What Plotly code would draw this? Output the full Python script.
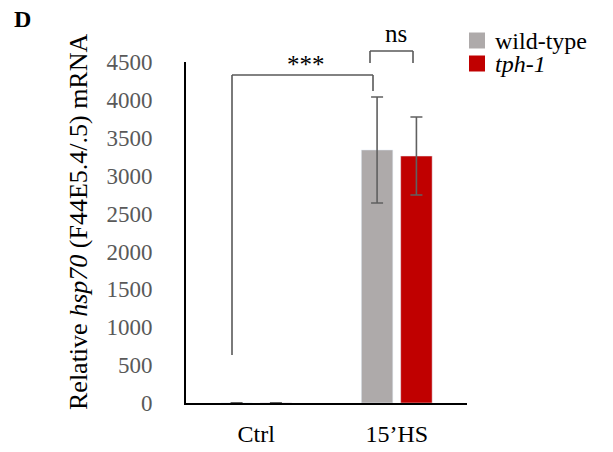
import plotly.graph_objects as go

categories = ["Ctrl", "15’HS"]
series_names = ["wild-type", "<i>tph-1</i>"]
series_colors = ["#AEAAAA", "#C00000"]
wt_values = [1, 3339]
wt_err = [0.5, 699]
tph_values = [1, 3259]
tph_err = [0.5, 515]
y_ticks = [0, 500, 1000, 1500, 2000, 2500, 3000, 3500, 4000, 4500]

FONT = "Liberation Serif, Times New Roman, serif"
L, R, T, B = 186, 613 - 467, 62, 452 - 403
W, H = 613, 452
PW, PH = W - L - R, H - T - B

def px(xp):
    return (xp - L) / PW

def py(yp):
    return (H - B - yp) / PH

err_style = dict(type="data", visible=True, color="#606060", thickness=1.6, width=6)

fig = go.Figure()
for name, color, vals, errs in zip(series_names, series_colors, [wt_values, tph_values], [wt_err, tph_err]):
    fig.add_trace(go.Bar(x=categories, y=vals, name=name, marker_color=color,
                         error_y=dict(array=errs, **err_style)))

line = dict(color="#595959", width=1.6)
# *** bracket
fig.add_shape(type="line", xref="paper", yref="paper", x0=px(232), x1=px(232), y0=py(355), y1=py(75), line=line)
fig.add_shape(type="line", xref="paper", yref="paper", x0=px(232), x1=px(373), y0=py(75), y1=py(75), line=line)
fig.add_shape(type="line", xref="paper", yref="paper", x0=px(373), x1=px(373), y0=py(75), y1=py(91), line=line)
fig.add_annotation(text="***", xref="paper", yref="paper", x=px(306), y=py(64), showarrow=False,
                   font=dict(family=FONT, size=25, color="black"), xanchor="center", yanchor="middle")
# ns bracket
fig.add_shape(type="line", xref="paper", yref="paper", x0=px(370), x1=px(370), y0=py(63), y1=py(51), line=line)
fig.add_shape(type="line", xref="paper", yref="paper", x0=px(370), x1=px(413), y0=py(51), y1=py(51), line=line)
fig.add_shape(type="line", xref="paper", yref="paper", x0=px(413), x1=px(413), y0=py(51), y1=py(63), line=line)
fig.add_annotation(text="ns", xref="paper", yref="paper", x=px(396), y=py(33), showarrow=False,
                   font=dict(family=FONT, size=25, color="black"), xanchor="center", yanchor="middle")

# legend (drawn manually for square size)
for i, (name, color) in enumerate(zip(series_names, series_colors)):
    yc = 40.5 + i * 23
    fig.add_shape(type="rect", xref="paper", yref="paper", x0=px(469), x1=px(485),
                  y0=py(yc - 8), y1=py(yc + 8), fillcolor=color, line=dict(width=0))
    fig.add_annotation(text=name, xref="paper", yref="paper", x=px(494), y=py(yc), showarrow=False,
                       font=dict(family=FONT, size=24, color="black"), xanchor="left", yanchor="middle",
                       borderpad=0)

# panel label
fig.add_annotation(text="<b>D</b>", xref="paper", yref="paper", x=px(22), y=py(19), showarrow=False,
                   font=dict(family=FONT, size=24, color="black"), xanchor="center", yanchor="middle")
# y title
fig.add_annotation(text="Relative <i>hsp70</i> (F44E5.4/.5) mRNA", xref="paper", yref="paper",
                   x=px(78), y=py(222), showarrow=False, textangle=-90,
                   font=dict(family=FONT, size=26, color="black"), xanchor="center", yanchor="middle")

fig.update_layout(
    width=W, height=H,
    margin=dict(l=L, r=R, t=T, b=B, pad=0, autoexpand=False),
    paper_bgcolor="white", plot_bgcolor="white",
    barmode="group", bargap=0.44, bargroupgap=0.2,
    font=dict(family=FONT, color="#595959"),
    showlegend=False,
    xaxis=dict(showline=True, linecolor="black", linewidth=2, ticks="", showgrid=False, automargin=False,
               tickfont=dict(family=FONT, size=24, color="black"), ticklabelstandoff=8),
    yaxis=dict(range=[0, 4500], tickvals=y_ticks, showline=True, linecolor="black", linewidth=2,
               ticks="", showgrid=False, zeroline=False, automargin=False,
               tickfont=dict(family=FONT, size=23, color="#595959"), ticklabelstandoff=27),
)

fig.write_html("out.html")
